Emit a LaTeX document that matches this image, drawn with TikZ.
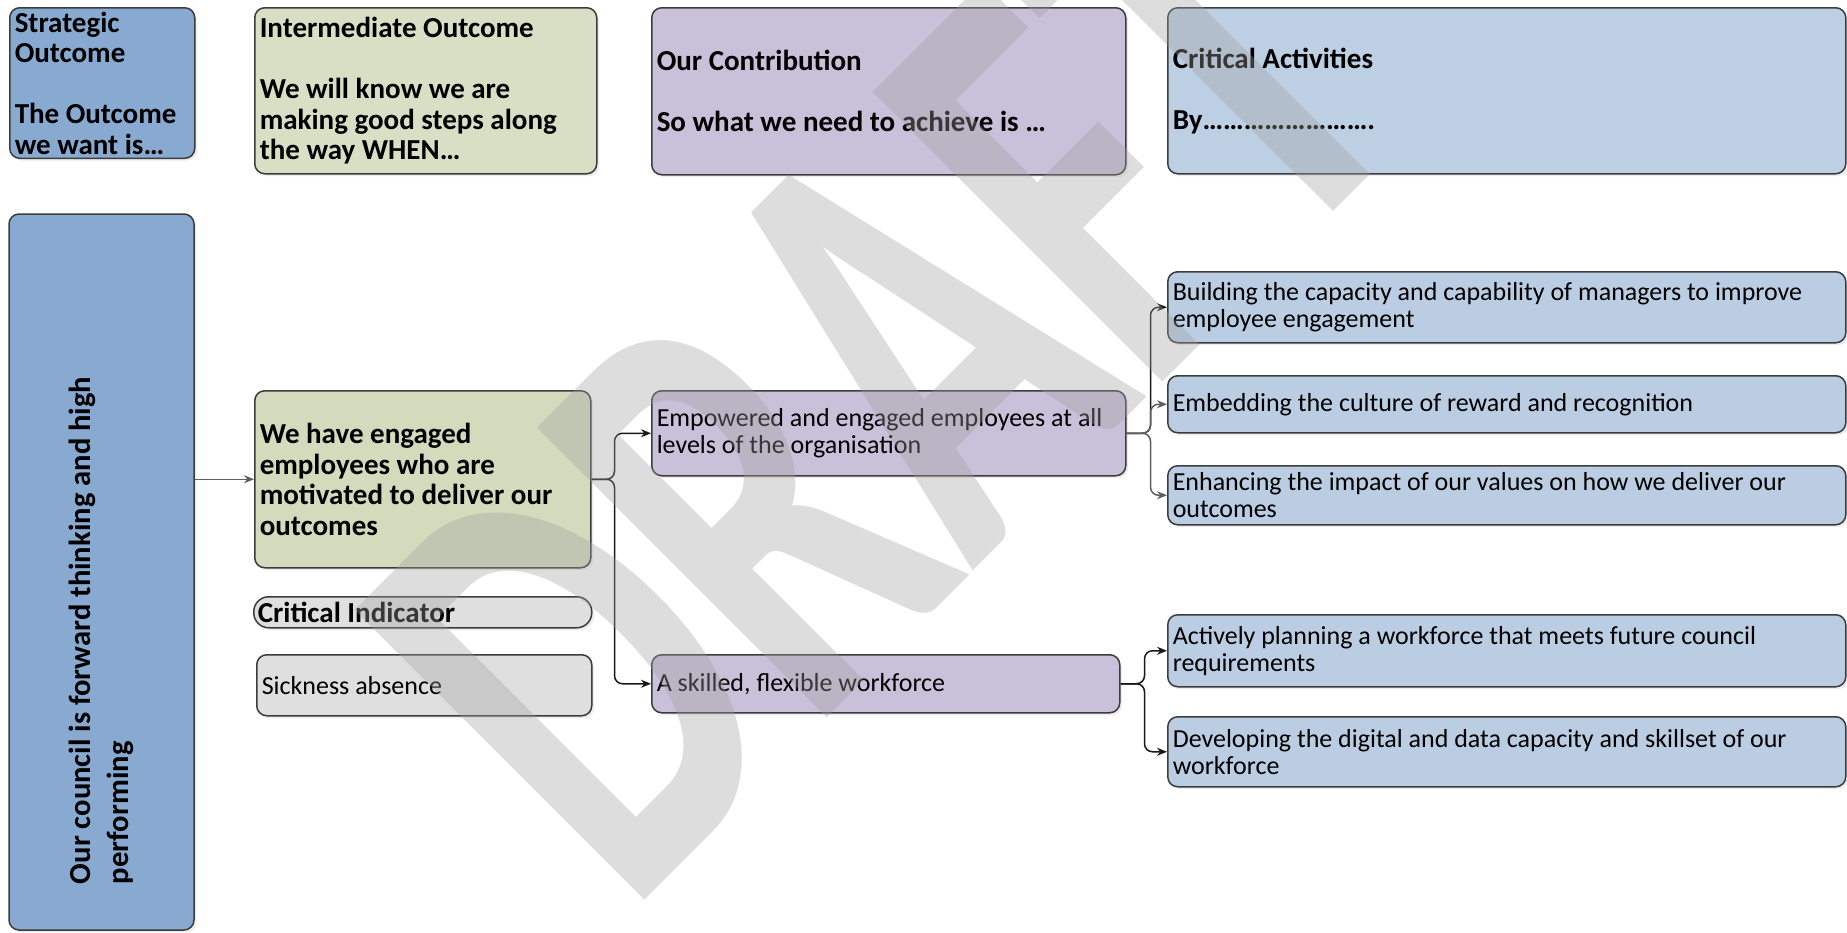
\documentclass[tikz,border=0pt]{standalone}
\usepackage{fontspec}
\setmainfont{Carlito}
\usetikzlibrary{arrows.meta, positioning, calc, shadows}
\definecolor{stratBlue}{RGB}{136,170,209}
\definecolor{ioGreen}{RGB}{217,223,196}
\definecolor{weGreen}{RGB}{212,219,188}
\definecolor{ocPurple}{RGB}{201,192,217}
\definecolor{caBlue}{RGB}{189,207,227}
\definecolor{actBlue}{RGB}{186,205,226}
\definecolor{ciGray}{RGB}{223,223,223}
\definecolor{boxEdge}{RGB}{60,60,60}
\definecolor{lineDark}{RGB}{25,25,25}
\definecolor{lineGray}{RGB}{95,95,95}
\definecolor{wmGray}{RGB}{160,160,160}

\begin{document}
\begin{tikzpicture}[x=0.5pt, y=-0.5pt,
  box/.style={draw=boxEdge, line width=0.75pt, rounded corners=5pt, anchor=north west, align=flush left,
    inner xsep=2.5pt, inner ysep=2pt, drop shadow={shadow xshift=1.2pt, shadow yshift=-1.2pt, opacity=0.15}},
  head/.style={box, font=\bfseries\fontsize{14.5}{15.25}\selectfont},
  body/.style={box, font=\fontsize{13}{13.25}\selectfont},
  act/.style={body, fill=actBlue, minimum width=339pt, text width=334pt, font=\fontsize{13}{13.5}\selectfont},
  arr/.style={-{Stealth[length=5pt, width=4pt]}, line width=0.75pt, draw=lineDark, rounded corners=4pt},
  wmark/.style={font=\bfseries\fontsize{100}{100}\selectfont, text=wmGray, text opacity=0.35,
    rotate=45, xscale=2.04, yscale=3.16, inner sep=0pt}
]
\path[use as bounding box, fill=white] (0,0) rectangle (1847,932);

\node[head, fill=stratBlue, minimum width=92.5pt, minimum height=74pt, text width=87.5pt] (soHead) at (9,7)
  {Strategic\\Outcome\\~\\The Outcome\\we want is…};
\node[head, fill=ioGreen, minimum width=171pt, minimum height=83pt, text width=166pt] (ioHead) at (254,7)
  {Intermediate Outcome\\~\\We will know we are\\making good steps along\\the way WHEN…};
\node[head, fill=ocPurple, minimum width=237pt, minimum height=83.5pt, text width=232pt] (ocHead) at (651,7)
  {Our Contribution\\~\\So what we need to achieve is …};
\node[head, fill=caBlue, minimum width=339pt, minimum height=83pt, text width=334pt] (caHead) at (1167,7)
  {Critical Activities\\~\\By…………………….};

\node[box, fill=stratBlue, anchor=center, rotate=90, minimum width=358pt, minimum height=92.5pt,
  inner xsep=23pt, text width=312pt, font=\bfseries\fontsize{15.3}{19}\selectfont] (council) at (101.5,572)
  {Our council is forward thinking and high\\performing};

\node[head, fill=weGreen, minimum width=168pt, minimum height=88.5pt, text width=163pt] (outcome) at (254,390)
  {We have engaged\\employees who are\\motivated to deliver our\\outcomes};
\node[head, fill=ciGray, rounded corners=7.5pt, minimum width=169pt, minimum height=15.5pt, text width=165pt,
  inner xsep=2pt, inner ysep=0pt] (ciLbl) at (253,596) {Critical Indicator};
\node[body, fill=ciGray, minimum width=167.5pt, minimum height=30.5pt, text width=162.5pt] (ciVal) at (256,654)
  {Sickness absence};

\node[body, fill=ocPurple, minimum width=237pt, minimum height=42.5pt, text width=232pt] (contrib1) at (651,390)
  {Empowered and engaged employees at all\\levels of the organisation};
\node[body, fill=ocPurple, minimum width=234pt, minimum height=29pt, text width=229pt] (contrib2) at (651,654)
  {A skilled, flexible workforce};

\foreach \i/\y/\h/\txt in {
  1/271/35.5pt/{Building the capacity and capability of managers to improve\\employee engagement},
  2/375/28.5pt/{Embedding the culture of reward and recognition},
  3/465/29.5pt/{Enhancing the impact of our values on how we deliver our\\outcomes},
  4/614/36pt/{Actively planning a workforce that meets future council\\requirements},
  5/716/35pt/{Developing the digital and data capacity and skillset of our\\workforce}
}{
  \node[act, minimum height=\h] (act\i) at (1167,\y) {\txt};
}

\coordinate (fk1) at ($(outcome.east)+(23,0)$);
\coordinate (fk2) at ($(contrib1.east)+(24,0)$);
\coordinate (fk3) at ($(contrib2.east)+(24,0)$);
\draw[arr, draw=lineGray] (outcome.west -| council.south) -- (outcome.west);
\foreach \j in {1,2}{
  \draw[arr] (outcome.east) -- (fk1) |- (contrib\j.west);
}
\foreach \j/\c in {1/lineDark, 2/lineGray, 3/lineGray}{
  \draw[arr, draw=\c] (contrib1.east) -- (fk2) |- (act\j.west);
}
\foreach \j in {4,5}{
  \draw[arr] (contrib2.east) -- (fk3) |- (act\j.west);
}

\node[wmark] (draft) at (881,374) {DRAFT};
\end{tikzpicture}
\end{document}
